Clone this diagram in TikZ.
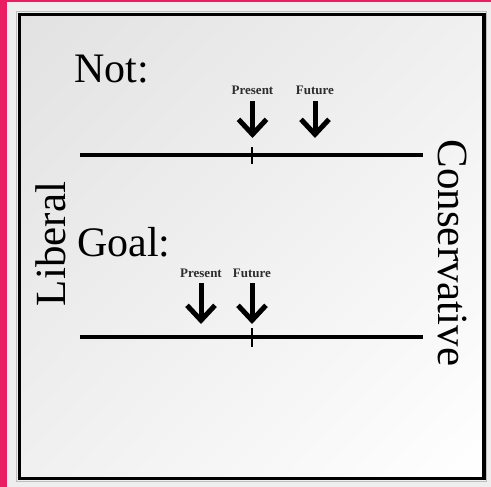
\documentclass[tikz,border=0pt]{standalone}
\usepackage{fontspec}
\setmainfont{Liberation Serif}
\usetikzlibrary{arrows.meta,shadings}
\definecolor{pinkbar}{RGB}{233,30,99}
\definecolor{outerbg}{RGB}{238,238,238}
\definecolor{shadeA}{RGB}{226,226,226}
\definecolor{shadeB}{RGB}{240,240,240}
\definecolor{lblgray}{RGB}{45,45,45}
\tikzset{
  bigtext/.style={inner sep=0pt, font=\fontsize{42}{48}\selectfont},
  sidetext/.style={inner sep=0pt, font=\fontsize{43}{50}\selectfont},
  lbl/.style={inner sep=0pt, text=lblgray, font=\bfseries\fontsize{13}{15}\selectfont},
  axisline/.style={line width=3.6pt},
  tickline/.style={line width=1.2pt},
  bigarrow/.style={line width=5pt, shorten <=6pt,
    -{Straight Barb[length=15pt,width=28pt,line width=5pt]}},
  frameline/.style={line width=3.6pt}
}
\begin{document}
\begin{tikzpicture}[x=1pt,y=-1pt]
\useasboundingbox (0,0) rectangle (491,487);
% backgrounds
\fill[outerbg] (0,0) rectangle (491,487);
\fill[pinkbar] (0,0) rectangle (7,487);
\fill[pinkbar] (0,0) rectangle (491,2.5);
\shade[upper left=shadeA, upper right=shadeB, lower left=shadeB, lower right=white]
  (19.5,14.5) rectangle (484,478.5);
\draw[black!25, line width=1pt] (16.8,11.8) rectangle (486.7,481.2);
\draw[frameline] (19.5,14.5) rectangle (484,478.5);

% titles
\node[bigtext, anchor=base west] (nottitle) at (74,83) {Not:};
\node[bigtext, anchor=base west] (goaltitle) at (77,257) {Goal:};
\node[sidetext, rotate=90, anchor=base] (liberal) at (65,244) {Liberal};
\node[sidetext, rotate=-90, anchor=base] (conservative) at (438,253) {Conservative};

% Not axis
\coordinate (notL) at (80,155);
\coordinate (notR) at (423,155);
\draw[axisline] (notL) -- (notR);
\coordinate (notTickTop) at (252,147);
\coordinate (notTickBot) at (252,164);
\draw[tickline] (notTickTop) -- (notTickBot);
\node[lbl, anchor=base] (notPresent) at (252.5,95) {Present};
\node[lbl, anchor=base] (notFuture) at (315,95) {Future};
\coordinate (notPresentTip) at (252.5,138);
\coordinate (notFutureTip) at (315,138);
\draw[bigarrow] (notPresent.south) -- (notPresentTip);
\draw[bigarrow] (notFuture.south) -- (notFutureTip);

% Goal axis
\coordinate (goalL) at (80,337);
\coordinate (goalR) at (423,337);
\draw[axisline] (goalL) -- (goalR);
\coordinate (goalTickTop) at (252,328);
\coordinate (goalTickBot) at (252,347);
\draw[tickline] (goalTickTop) -- (goalTickBot);
\node[lbl, anchor=base] (goalPresent) at (201,277) {Present};
\node[lbl, anchor=base] (goalFuture) at (252,277) {Future};
\coordinate (goalPresentTip) at (201,324);
\coordinate (goalFutureTip) at (252,324);
\draw[bigarrow] (goalPresent.south) -- (goalPresentTip);
\draw[bigarrow] (goalFuture.south) -- (goalFutureTip);
\end{tikzpicture}
\end{document}
